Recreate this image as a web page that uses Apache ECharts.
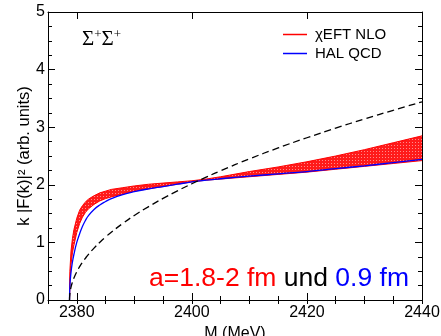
<!DOCTYPE html>
<html>
<head>
<meta charset="utf-8">
<script src="https://cdn.jsdelivr.net/npm/echarts@6/dist/echarts.min.js"></script>
<style>
  html, body { margin: 0; padding: 0; background: #fff; }
  #chart { width: 441px; height: 336px; }
</style>
</head>
<body>
<div id="chart"></div>
<script>
// Invariant mass of the Sigma+ Sigma+ pair (MeV), starting at threshold
const massMeV = [2378.74, 2378.8, 2379.0, 2379.25, 2379.5, 2380.0, 2380.5, 2381.0, 2381.5, 2382.0,
                 2383, 2384, 2385, 2386, 2388, 2390, 2392.5, 2395, 2397.5, 2400,
                 2402.5, 2405, 2410, 2415, 2420, 2425, 2430, 2435, 2440];
// Pure phase space (dashed)
const phaseSpace = [0, 0.107, 0.223, 0.311, 0.381, 0.490, 0.580, 0.657, 0.725, 0.789,
                    0.901, 1.001, 1.093, 1.177, 1.329, 1.467, 1.622, 1.764, 1.895, 2.018,
                    2.133, 2.243, 2.450, 2.640, 2.817, 2.984, 3.142, 3.294, 3.440];
// HAL QCD interaction
const halQcd = [0, 0.24, 0.48, 0.66, 0.79, 1.00, 1.15, 1.28, 1.38, 1.46,
                1.57, 1.65, 1.71, 1.76, 1.83, 1.88, 1.93, 1.97, 2.01, 2.05,
                2.08, 2.105, 2.15, 2.19, 2.23, 2.28, 2.33, 2.385, 2.44];
// chiral EFT NLO band: upper and lower edges
const eftUpper = [0, 0.50, 0.85, 1.07, 1.22, 1.42, 1.56, 1.64, 1.70, 1.75,
                  1.81, 1.86, 1.89, 1.92, 1.95, 1.98, 2.01, 2.03, 2.05, 2.07,
                  2.10, 2.14, 2.23, 2.31, 2.40, 2.50, 2.61, 2.73, 2.85];
const eftLower = [0, 0.32, 0.62, 0.82, 0.95, 1.17, 1.33, 1.44, 1.52, 1.58,
                  1.66, 1.72, 1.76, 1.79, 1.84, 1.89, 1.93, 1.97, 2.01, 2.05,
                  2.08, 2.10, 2.14, 2.18, 2.22, 2.27, 2.32, 2.37, 2.42];
const xTicks = [2380, 2400, 2420, 2440];
const yTicks = [0, 1, 2, 3, 4, 5];

const SANS = 'Liberation Sans, Arial, sans-serif';
const SERIF = 'Liberation Serif, Times New Roman, serif';

const pairs = ys => massMeV.map((m, i) => [m, ys[i]]);

// small stipple texture for the band fill
const stipple = document.createElement('canvas');
stipple.width = 3; stipple.height = 3;
(function () {
  const c = stipple.getContext('2d');
  c.fillStyle = '#ff1a1a'; c.fillRect(0, 0, 3, 3);
  c.fillStyle = '#ff8a8a'; c.fillRect(1, 1, 1, 1);
})();

const xMin = 2375, xMax = 2440;
const frameLine = { show: true, onZero: false, lineStyle: { color: '#000', width: 1 } };

function xAxisPair(pos, withLabels) {
  return [
    {
      type: 'value', position: pos, min: xMin, max: xMax,
      axisLine: frameLine,
      axisTick: { show: true, inside: true, length: 7, customValues: xTicks, lineStyle: { color: '#000' } },
      axisLabel: withLabels
        ? { show: true, customValues: xTicks, fontSize: 16, color: '#000', fontFamily: SANS, margin: 5,
            formatter: v => String(v) }
        : { show: false },
      splitLine: { show: false },
      name: withLabels ? 'M (MeV)' : '',
      nameLocation: 'middle', nameGap: 20,
      nameTextStyle: { fontSize: 16, color: '#000', fontFamily: SANS }
    },
    {
      type: 'value', position: pos, min: xMin, max: xMax, interval: 5, offset: 0,
      axisLine: { show: false },
      axisTick: { show: true, inside: true, length: 4, lineStyle: { color: '#000' } },
      axisLabel: { show: false },
      splitLine: { show: false }
    }
  ];
}

function yAxisDef(pos, withLabels) {
  return {
    type: 'value', position: pos, min: 0, max: 5, interval: 1,
    axisLine: frameLine,
    axisTick: { show: true, inside: true, length: 7, lineStyle: { color: '#000' } },
    minorTick: { show: true, splitNumber: 4, length: 4, lineStyle: { color: '#000' } },
    axisLabel: withLabels
      ? { show: true, fontSize: 16, color: '#000', fontFamily: SANS, margin: 3,
          formatter: v => (yTicks.includes(v) ? String(v) : '') }
      : { show: false },
    splitLine: { show: false }
  };
}

const chart = echarts.init(document.getElementById('chart'), null, { renderer: 'canvas' });

chart.setOption({
  animation: false,
  backgroundColor: '#fff',
  grid: { left: 48, right: 19, top: 12, bottom: 36, containLabel: false, outerBoundsMode: 'none' },
  xAxis: [...xAxisPair('bottom', true), ...xAxisPair('top', false)],
  yAxis: [yAxisDef('left', true), yAxisDef('right', false)],
  legend: {
    orient: 'vertical', left: 283, top: 27, padding: 0,
    itemWidth: 24, itemHeight: 1.5, itemGap: 4, icon: 'rect',
    itemStyle: { borderWidth: 0 },
    textStyle: { fontSize: 15, color: '#000', fontFamily: SANS, lineHeight: 15, padding: [0, 0, 0, 3] },
    data: ['χEFT NLO', 'HAL QCD']
  },
  series: [
    {
      type: 'line', name: 'χEFT NLO', data: pairs(eftUpper), color: '#ff0000',
      showSymbol: false, symbol: 'none', smooth: false, z: 2,
      lineStyle: { color: '#ff0000', width: 1 }
    },
    {
      type: 'line', name: 'χEFT NLO', data: pairs(eftLower), color: '#ff0000',
      showSymbol: false, symbol: 'none', smooth: false, z: 2,
      lineStyle: { color: '#ff0000', width: 1 }
    },
    {
      // filled band between the two chiral EFT edges
      type: 'custom', name: 'χEFT NLO', coordinateSystem: 'cartesian2d',
      xAxisIndex: 0, yAxisIndex: 0, silent: true, z: 1,
      color: '#ff0000',
      data: [[2400, 2]],
      renderItem: function (params, api) {
        const pts = [];
        for (let i = 0; i < massMeV.length; i++) pts.push(api.coord([massMeV[i], eftUpper[i]]));
        for (let i = massMeV.length - 1; i >= 0; i--) pts.push(api.coord([massMeV[i], eftLower[i]]));
        return { type: 'polygon', shape: { points: pts },
                 style: { fill: { image: stipple, repeat: 'repeat' }, stroke: null } };
      }
    },
    {
      type: 'line', name: 'HAL QCD', data: pairs(halQcd), color: '#0000ff',
      showSymbol: false, symbol: 'none', smooth: true, z: 3,
      lineStyle: { color: '#0000ff', width: 1.3 }
    },
    {
      type: 'line', name: 'phase space', data: pairs(phaseSpace), color: '#000',
      showSymbol: false, symbol: 'none', smooth: true, z: 3,
      lineStyle: { color: '#000', width: 1.3, type: [7, 4] }
    }
  ],
  graphic: [
    {
      type: 'text', x: 24, y: 156, rotation: Math.PI / 2, z: 10,
      style: { text: 'k |F(k)|² (arb. units)', font: '16.5px ' + SANS, fill: '#000',
               align: 'center', verticalAlign: 'middle' }
    },
    {
      type: 'text', x: 82, y: 39, z: 10,
      style: {
        text: '{s|Σ}{p|+}{s|Σ}{p|+}', verticalAlign: 'middle', align: 'left',
        rich: {
          s: { fontSize: 21, fontFamily: SERIF, fill: '#000' },
          p: { fontSize: 13, fontFamily: SERIF, fill: '#000', verticalAlign: 'top' }
        }
      }
    },
    {
      type: 'text', x: 409, y: 279, z: 10,
      style: {
        text: '{r|a=1.8-2 fm} {k|und} {b|0.9 fm}', align: 'right', verticalAlign: 'middle',
        font: '26.5px ' + SANS,
        rich: {
          r: { fontSize: 26.5, fontFamily: SANS, fill: '#ff0000' },
          k: { fontSize: 26.5, fontFamily: SANS, fill: '#000' },
          b: { fontSize: 26.5, fontFamily: SANS, fill: '#0000ff' }
        }
      }
    }
  ]
});
</script>
</body>
</html>
